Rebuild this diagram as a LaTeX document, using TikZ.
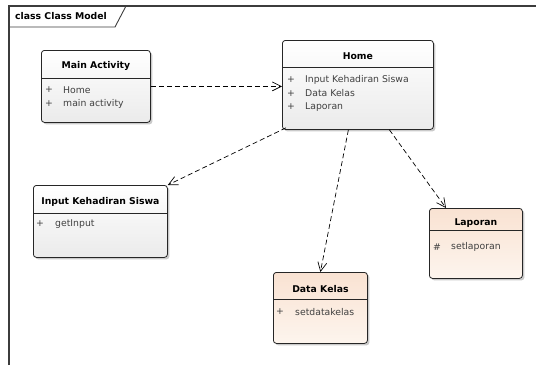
\documentclass[tikz,border=0pt]{standalone}
\usepackage{fontspec}
\setmainfont{DejaVu Sans}
\usetikzlibrary{arrows.meta,shadows,calc}
\definecolor{peachTop}{RGB}{249,226,210}
\definecolor{peachBot}{RGB}{253,245,238}
\definecolor{frameC}{RGB}{60,60,60}
\tikzset{
 cls/.style={draw=black!85, line width=0.8pt, rounded corners=3pt, anchor=north west, inner sep=0pt,
   drop shadow={shadow xshift=2pt, shadow yshift=-2pt, fill=black!35, opacity=0.6}},
 plain/.style={cls, top color=white, bottom color=black!8},
 peach/.style={cls, top color=peachTop, bottom color=peachBot},
 ttl/.style={font=\fontsize{9.3}{11}\selectfont\bfseries, inner sep=0pt},
 attr/.style={font=\fontsize{9.3}{11}\selectfont, text=black!75, inner sep=0pt, anchor=west},
 vis/.style={font=\fontsize{9.3}{11}\selectfont, text=black!75, inner sep=0pt},
 dep/.style={dash pattern=on 5pt off 3pt, line width=0.7pt, -{Straight Barb[length=9pt,width=9pt]}},
 sep/.style={draw=black!85, line width=0.8pt},
 frm/.style={draw=frameC, line width=1.2pt},
}
\begin{document}
\begin{tikzpicture}[x=1pt,y=-1pt]
\useasboundingbox (0,0) rectangle (536,365);
% frame
\draw[frm] (9,365) -- (9,6) -- (536,6);
\draw[frm, line width=0.9pt] (9,27) -- (115,27) -- (126,6);
\node[font=\fontsize{9.3}{11}\selectfont\bfseries, anchor=west, inner sep=0pt] (frameT) at (15,16.5) {class Class Model};

% Main Activity
\node[plain, minimum width=109pt, minimum height=72pt] (main) at (41,50) {};
\node[ttl] (mainT) at ($(main.north)+(0,16)$) {Main Activity};
\draw[sep] ($(main.north west)+(0,28)$) -- ($(main.north east)+(0,28)$);
\node[vis] (mainV1) at ($(main.north west)+(8,40)$) {+};
\node[attr] (mainA1) at ($(main.north west)+(22,40)$) {Home};
\node[vis] (mainV2) at ($(main.north west)+(8,53.5)$) {+};
\node[attr] (mainA2) at ($(main.north west)+(22,53.5)$) {main activity};

% Home
\node[plain, minimum width=151pt, minimum height=89pt] (home) at (282,40) {};
\node[ttl] (homeT) at ($(home.north)+(0,16)$) {Home};
\draw[sep] ($(home.north west)+(0,27)$) -- ($(home.north east)+(0,27)$);
\node[vis] (homeV1) at ($(home.north west)+(9,40)$) {+};
\node[attr] (homeA1) at ($(home.north west)+(23,40)$) {Input Kehadiran Siswa};
\node[vis] (homeV2) at ($(home.north west)+(9,53.5)$) {+};
\node[attr] (homeA2) at ($(home.north west)+(23,53.5)$) {Data Kelas};
\node[vis] (homeV3) at ($(home.north west)+(9,67)$) {+};
\node[attr] (homeA3) at ($(home.north west)+(23,67)$) {Laporan};

% Input Kehadiran Siswa
\node[plain, minimum width=134pt, minimum height=72pt] (input) at (33,185) {};
\node[ttl] (inputT) at ($(input.north)+(0,17)$) {Input Kehadiran Siswa};
\draw[sep] ($(input.north west)+(0,28)$) -- ($(input.north east)+(0,28)$);
\node[vis] (inputV1) at ($(input.north west)+(7,39)$) {+};
\node[attr] (inputA1) at ($(input.north west)+(22,39)$) {getInput};

% Data Kelas
\node[peach, minimum width=94pt, minimum height=71pt] (data) at (273,272) {};
\node[ttl] (dataT) at ($(data.north)+(0,17)$) {Data Kelas};
\draw[sep] ($(data.north west)+(0,27)$) -- ($(data.north east)+(0,27)$);
\node[vis] (dataV1) at ($(data.north west)+(7,40)$) {+};
\node[attr] (dataA1) at ($(data.north west)+(22,40)$) {setdatakelas};

% Laporan
\node[peach, minimum width=93pt, minimum height=70pt] (lap) at (429,208) {};
\node[ttl] (lapT) at ($(lap.north)+(0,15)$) {Laporan};
\draw[sep] ($(lap.north west)+(0,22)$) -- ($(lap.north east)+(0,22)$);
\node[vis] (lapV1) at ($(lap.north west)+(8,39)$) {\#};
\node[attr] (lapA1) at ($(lap.north west)+(22,39)$) {setlaporan};

% dependencies
\draw[dep] (main.east) -- (main.east -| home.west);
\draw[dep] ([xshift=4pt,yshift=2pt]home.south west) -- (input.north east);
\draw[dep] ([xshift=-9.5pt]home.south) -- (data.north);
\draw[dep] ([xshift=31.5pt]home.south) -- ([xshift=17pt]lap.north west);
\end{tikzpicture}
\end{document}
